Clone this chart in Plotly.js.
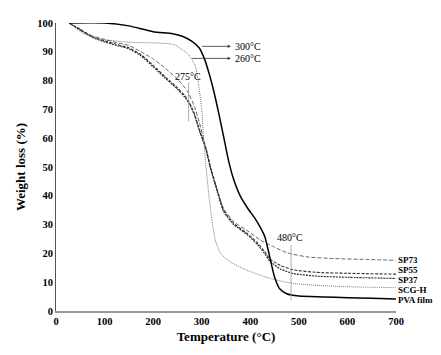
<!DOCTYPE html>
<html><head><meta charset="utf-8">
<script src="https://cdn.plot.ly/plotly-3.0.1.min.js"></script>
<style>body{margin:0;background:#fff}#c{width:441px;height:355px}</style>
</head><body><div id="c"></div>
<script>
const pvaT = [27,100,150,200,240,260,280,295,305,315,325,335,345,355,365,380,395,410,420,430,440,450,460,475,500,550,600,650,700];
const pvaW = [100,100,99,97,96.3,95.4,93.6,91.3,87.8,82.6,76.2,68.7,60.6,52.4,46.1,39.7,35.6,32.1,29.2,25.8,18.8,11.8,7.8,6.0,5.2,4.9,4.6,4.4,4.2];

const scgT = [27,40,55,70,90,120,153,215,243,260,273,287,294,300,304,309,315,321,328,339,359,393,435,483,537,606,700];
const scgW = [100,98.3,96.5,95.4,94.4,93.8,93.3,93,92.5,90.7,89,85,78,70,59.4,50,39.7,31.6,24.6,20,17,14.2,11.6,9.7,8.9,8.4,8.1];

const sp73T = [27,50,75,100,125,150,175,200,225,250,270,285,295,305,318,332,345,366,393,421,448,476,517,572,640,700];
const sp73W = [100,97.5,95.5,94.3,93.2,92.2,90,87.5,84.3,80.5,76.5,71,65.5,59,50,42,35.6,31,28,24.6,22.3,20.2,18.8,18.2,17.9,17.6];

const sp55T = [27,50,75,100,125,150,175,200,225,250,265,275,285,297,308,318,332,345,366,393,414,428,441,462,489,537,600,700];
const sp55W = [100,97.8,95.3,93.8,92.6,91.4,89,85.3,81.3,77.5,74.8,72.2,68.5,62,57,50,42,35,30.4,27,23.8,21,18,15.8,14.3,13.4,13.1,12.8];

const sp37T = [27,50,75,100,125,150,175,200,225,250,265,275,285,297,308,318,332,345,366,393,414,428,441,462,489,537,600,700];
const sp37W = [100,97.6,95,93.4,92.2,91,88.6,84.8,80.8,77,74.3,71.8,68,61.7,56.5,49.5,41.5,34.6,30,26.6,23.2,20.3,17.2,14.6,13,12.1,11.7,11.3];

const seriesNames = ['SP73','SP55','SP37','SCG-H','PVA film'];
const labelY = [17.6, 14.1, 10.6, 7.2, 3.9];
const xTicks = [0,100,200,300,400,500,600,700];
const yTicks = [0,10,20,30,40,50,60,70,80,90,100];

const serif = 'Liberation Serif, Times New Roman, serif';

const traces = [
  {x:sp73T, y:sp73W, mode:'lines', line:{color:'#666', width:1, dash:'4px,2px', shape:'spline', smoothing:0.6}},
  {x:sp55T, y:sp55W, mode:'lines', line:{color:'#333', width:1.1, dash:'3px,1.5px', shape:'spline', smoothing:0.6}},
  {x:sp37T, y:sp37W, mode:'lines', line:{color:'#222', width:1.1, dash:'2px,1px', shape:'spline', smoothing:0.6}},
  {x:scgT, y:scgW, mode:'lines', line:{color:'#777', width:1, dash:'1px,1px', shape:'spline', smoothing:0.6}},
  {x:pvaT, y:pvaW, mode:'lines', line:{color:'#000', width:1.5, shape:'spline', smoothing:0.6}}
];

const annotations = seriesNames.map((n,i) => ({
  x:700, y:labelY[i], xref:'x', yref:'y', text:'<b>'+n+'</b>', showarrow:false,
  xanchor:'left', yanchor:'middle', xshift:1, borderpad:0, font:{family:serif, size:9, color:'#000'}
}));

const txt = (t,x,y,anchor) => ({x:x, y:y, xref:'x', yref:'y', text:t, showarrow:false, xanchor:anchor, font:{family:serif, size:10, color:'#000'}});
annotations.push(txt('300°C', 364, 91.9, 'left'));
annotations.push(txt('260°C', 364, 87.7, 'left'));
annotations.push(txt('275°C', 272, 81.5, 'center'));
annotations.push(txt('480°C', 481, 25.6, 'center'));
const arrow = (x0,x1,y) => ({x:x1, y:y, ax:x0, ay:y, xref:'x', yref:'y', axref:'x', ayref:'y', text:'', showarrow:true, arrowhead:2, arrowsize:0.8, arrowwidth:0.8, arrowcolor:'#333'});
annotations.push(arrow(297, 360, 91.9));
annotations.push(arrow(277, 360, 87.7));

const shapes = [
  {type:'line', xref:'x', yref:'y', x0:273, x1:273, y0:79.4, y1:65.8, line:{color:'#999', width:0.8}},
  {type:'line', xref:'x', yref:'y', x0:484, x1:484, y0:22.9, y1:3.7, line:{color:'#999', width:0.8}}
];

const layout = {
  width:441, height:355,
  margin:{l:55.5, r:45.3, t:23.3, b:44.3},
  paper_bgcolor:'#fff', plot_bgcolor:'#fff',
  showlegend:false,
  xaxis:{range:[0,700], tickvals:xTicks, showgrid:false, zeroline:false, showline:true, linecolor:'#999', linewidth:1.5, ticks:'', ticklen:0,
    tickfont:{family:serif, size:10.5, color:'#000', weight:'bold'},
    title:{text:'<b>Temperature (°C)</b>', font:{family:serif, size:13, color:'#000'}, standoff:6}},
  yaxis:{range:[0,100], tickvals:yTicks, showgrid:false, zeroline:false, showline:true, linecolor:'#555', linewidth:1, ticks:'', ticklen:0,
    tickfont:{family:serif, size:10.5, color:'#000', weight:'bold'},
    title:{text:'<b>Weight loss (%)</b>', font:{family:serif, size:13, color:'#000'}, standoff:8}},
  annotations:annotations, shapes:shapes
};
Plotly.newPlot('c', traces, layout, {staticPlot:true, displayModeBar:false});
</script></body></html>
